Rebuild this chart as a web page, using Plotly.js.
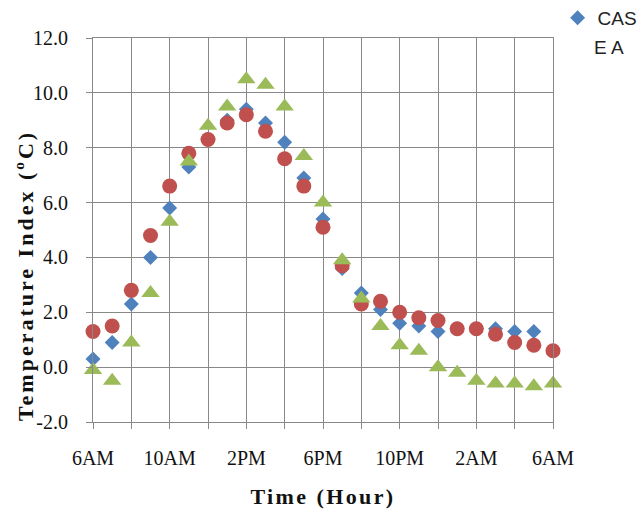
<!DOCTYPE html>
<html>
<head>
<meta charset="utf-8">
<script src="https://cdn.plot.ly/plotly-3.0.1.min.js"></script>
<style>html,body{margin:0;padding:0;background:#fff;}#chart{width:642px;height:518px;}</style>
</head>
<body>
<div id="chart"></div>
<script>
// Hours since 6AM (hourly readings over one day)
var hours = [0,1,2,3,4,5,6,7,8,9,10,11,12,13,14,15,16,17,18,19,20,21,22,23,24];
var tickHours = [0,4,8,12,16,20,24];
var tickLabels = ["6AM","10AM","2PM","6PM","10PM","2AM","6AM"];
var yTickVals = [-2,0,2,4,6,8,10,12];
var yTickLabels = ["-2.0","0.0","2.0","4.0","6.0","8.0","10.0","12.0"];

var casA = [0.3,0.9,2.3,4.0,5.8,7.3,8.3,9.0,9.4,8.9,8.2,6.9,5.4,3.6,2.7,2.1,1.6,1.5,1.3,1.4,1.4,1.4,1.3,1.3,null];
var seriesRed = [1.3,1.5,2.8,4.8,6.6,7.8,8.3,8.9,9.2,8.6,7.6,6.6,5.1,3.7,2.3,2.4,2.0,1.8,1.7,1.4,1.4,1.2,0.9,0.8,0.6];
var seriesGreen = [-0.1,-0.5,0.9,2.7,5.3,7.5,8.8,9.5,10.5,10.3,9.5,7.7,6.0,3.9,2.5,1.5,0.8,0.6,0.0,-0.2,-0.5,-0.6,-0.6,-0.7,-0.6];

var legendName = "CAS";
var legendName2 = "E A";
var yTitle = "Temperature Index (<sup>o</sup>C)";
var xTitle = "Time (Hour)";

var gridCol = "#888888";
var serif = "Liberation Serif, Times New Roman, serif";
var narrow = "Liberation Sans Narrow, Arial Narrow, Liberation Sans, sans-serif";

var traces = [
  {x: hours, y: casA, type: "scatter", mode: "markers", name: legendName,
   marker: {symbol: "diamond", size: 11.5, color: "#4F81BD"}, cliponaxis: false},
  {x: hours, y: seriesRed, type: "scatter", mode: "markers", name: "B", showlegend: false,
   marker: {symbol: "circle", size: 15, color: "#C0504D"}, cliponaxis: false},
  {x: hours, y: seriesGreen, type: "scatter", mode: "markers", name: "C", showlegend: false,
   marker: {symbol: "triangle-up", size: 16, color: "#9BBB59"}, cliponaxis: false}
];

var layout = {
  width: 642, height: 518,
  margin: {l: 93, r: 89, t: 38, b: 96, autoexpand: false},
  paper_bgcolor: "#fff", plot_bgcolor: "#fff",
  showlegend: true,
  legend: {x: 1.01, xanchor: "left", y: 1.102, yanchor: "top",
           font: {family: narrow, size: 19, color: "#222"},
           itemwidth: 30, bgcolor: "rgba(0,0,0,0)", tracegroupgap: 0},
  xaxis: {
    range: [0, 24], tickmode: "array", tickvals: tickHours, ticktext: tickLabels,
    showgrid: true, gridcolor: gridCol, gridwidth: 1,
    showline: true, linecolor: gridCol, linewidth: 1, mirror: true,
    ticks: "outside", ticklen: 6, tickcolor: gridCol, ticklabelstandoff: 12,
    minor: {tickmode: "linear", tick0: 0, dtick: 2, showgrid: true, gridcolor: gridCol, gridwidth: 1,
            ticks: "outside", ticklen: 6, tickcolor: gridCol},
    zeroline: false,
    tickfont: {family: serif, size: 20, color: "#111"},
    title: {text: "<b><span style=\"letter-spacing:2.4px\">" + xTitle + "</span></b>", font: {family: serif, size: 22, color: "#111"}, standoff: 20}
  },
  yaxis: {
    range: [-2, 12], tickmode: "array", tickvals: yTickVals, ticktext: yTickLabels,
    showgrid: true, gridcolor: gridCol, gridwidth: 1,
    showline: true, linecolor: gridCol, linewidth: 1, mirror: true,
    ticks: "outside", ticklen: 6, tickcolor: gridCol, ticklabelstandoff: 14,
    zeroline: false,
    tickfont: {family: serif, size: 20, color: "#111"}
  },
  annotations: [
    {xref: "paper", yref: "paper", x: -0.15, y: 0.38, xanchor: "center", yanchor: "middle",
     textangle: -90, showarrow: false, text: "<b><span style=\"letter-spacing:3px\">" + yTitle + "</span></b>",
     font: {family: serif, size: 22, color: "#111"}},
    {xref: "paper", yref: "paper", x: 1.085, y: 0.974, xanchor: "left", yanchor: "middle",
     showarrow: false, text: legendName2,
     font: {family: narrow, size: 19, color: "#222"}}
  ]
};

Plotly.newPlot("chart", traces, layout, {displayModeBar: false, staticPlot: true});
</script>
</body>
</html>
